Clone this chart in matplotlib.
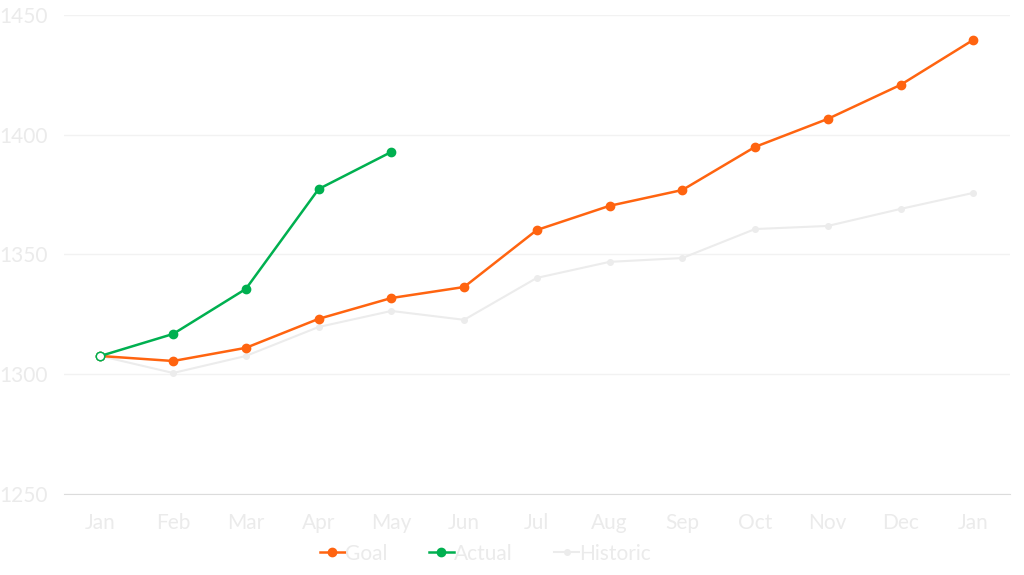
import matplotlib
matplotlib.use('Agg')
import matplotlib.pyplot as plt

#Datos del grafico:
meses = ['Jan','Feb','Mar','Apr','May','Jun','Jul','Aug','Sep','Oct','Nov','Dec','Jan']
goal = [1307.6,1305.5,1311.0,1323.1,1331.8,1336.4,1360.2,1370.3,1376.9,1394.9,1406.6,1420.8,1439.6]
actual = [1307.6,1316.8,1335.6,1377.3,1392.8]
historic = [1307.6,1300.5,1307.6,1319.7,1326.4,1322.7,1340.2,1346.9,1348.5,1360.6,1361.9,1369.0,1375.7]
yticks = [1250,1300,1350,1400,1450]

texto = '#ebebeb'
plt.rcParams['font.family'] = ['Lato','DejaVu Sans']

fig = plt.figure(figsize=(10.24,5.75),dpi=100)
ax = fig.add_axes([0.0625,0.141,0.9235,0.833])

x = list(range(len(meses)))
ax.plot(x,historic,color='#ececec',linewidth=1.5,marker='o',markersize=4,label='Historic',zorder=2)
ax.plot(x,goal,color='#ff6410',linewidth=1.8,marker='o',markersize=6,label='Goal',zorder=3)
ax.plot(x[:len(actual)],actual,color='#00b050',linewidth=1.8,marker='o',markersize=6,label='Actual',zorder=4)
#primer punto hueco de la serie real
ax.plot([x[0]],[actual[0]],linestyle='none',marker='o',markersize=6,markerfacecolor='white',markeredgecolor='#00b050',markeredgewidth=1,zorder=5)

ax.set_xlim(-0.5,len(meses)-0.5)
ax.set_ylim(1250,1450)
ax.set_xticks(x)
ax.set_xticklabels(meses)
ax.set_yticks(yticks)
ax.tick_params(axis='both',length=0,colors=texto,labelsize=15)
ax.tick_params(axis='x',pad=14)
ax.tick_params(axis='y',pad=12)
ax.grid(axis='y',color='#f2f2f2',linewidth=1)
ax.set_axisbelow(True)
for lado in ['top','right','left']:
    ax.spines[lado].set_visible(False)
ax.spines['bottom'].set_color('#dcdcdc')

handles,labels = ax.get_legend_handles_labels()
orden = [1,2,0]
leg = fig.legend([handles[i] for i in orden],[labels[i] for i in orden],loc='center',bbox_to_anchor=(0.474,0.037),
                 ncol=3,frameon=False,fontsize=15,handlelength=1.2,handletextpad=0.0,columnspacing=2.0)
for t in leg.get_texts():
    t.set_color(texto)

fig.savefig('out.png',dpi=100)
